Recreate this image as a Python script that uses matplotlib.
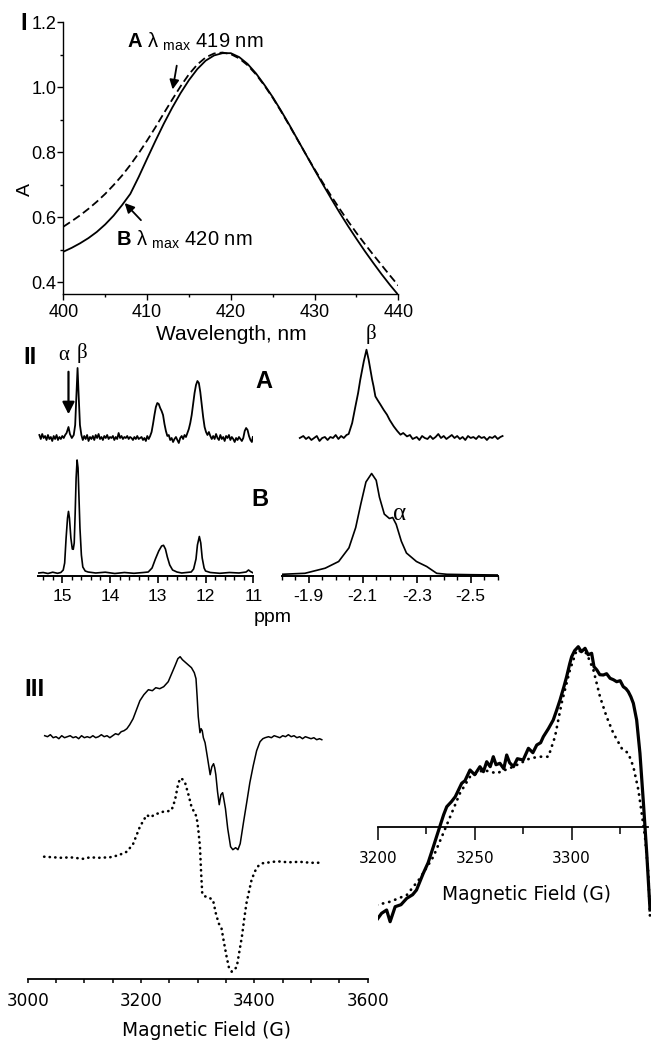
import matplotlib
matplotlib.use("Agg")
import matplotlib.pyplot as plt
import numpy as np
from matplotlib.ticker import MultipleLocator

plt.rcParams['font.family'] = ['Liberation Sans', 'DejaVu Sans']
plt.rcParams['axes.unicode_minus'] = False
plt.rcParams['mathtext.fontset'] = 'custom'
plt.rcParams['mathtext.rm'] = 'Liberation Sans'
plt.rcParams['mathtext.bf'] = 'Liberation Sans:bold'
plt.rcParams['mathtext.it'] = 'Liberation Sans:italic'

W, H = 663, 1050

# ---------------- Panel I : UV-vis ----------------
uv_wl = [400, 401, 402, 403, 404, 405, 406, 407, 408, 409, 410, 411, 412, 413, 414, 415, 416, 417, 418, 419, 420,
         421, 422, 423, 424, 425, 426, 427, 428, 429, 430, 431, 432, 433, 434, 435, 436, 437, 438, 439, 440]
uv_abs_a = [0.571, 0.588, 0.606, 0.626, 0.648, 0.672, 0.699, 0.728, 0.761, 0.797, 0.836, 0.877, 0.920, 0.962,
            1.003, 1.040, 1.070, 1.092, 1.104, 1.107, 1.102, 1.089, 1.068, 1.040, 1.006, 0.968, 0.926, 0.882,
            0.837, 0.792, 0.748, 0.706, 0.665, 0.626, 0.588, 0.552, 0.518, 0.485, 0.453, 0.421, 0.390]
uv_abs_b = [0.494, 0.506, 0.520, 0.536, 0.555, 0.578, 0.605, 0.637, 0.672, 0.724, 0.780, 0.835, 0.888, 0.937,
            0.982, 1.022, 1.056, 1.082, 1.098, 1.105, 1.105, 1.093, 1.072, 1.043, 1.008, 0.970, 0.928, 0.884,
            0.838, 0.792, 0.746, 0.701, 0.657, 0.614, 0.573, 0.534, 0.496, 0.460, 0.425, 0.392, 0.361]

# ---------------- Panel II : NMR ----------------
nmr_left_ppm_a = [15.48, 15.45, 15.42, 15.39, 15.36, 15.33, 15.30, 15.27, 15.24, 15.21, 15.18, 15.15, 15.12, 15.09,
                  15.06, 15.03, 15.00, 14.97, 14.94, 14.91, 14.87, 14.84, 14.80, 14.76, 14.73, 14.70, 14.68, 14.66,
                  14.63, 14.60, 14.57, 14.54, 14.51, 14.48, 14.45, 14.42, 14.39, 14.36, 14.33, 14.30, 14.27, 14.24,
                  14.21, 14.18, 14.15, 14.12, 14.09, 14.06, 14.03, 14.00, 13.97, 13.94, 13.91, 13.88, 13.85, 13.82,
                  13.79, 13.76, 13.73, 13.70, 13.67, 13.64, 13.61, 13.58, 13.55, 13.52, 13.49, 13.46, 13.43, 13.40,
                  13.37, 13.34, 13.31, 13.28, 13.25, 13.22, 13.19, 13.16, 13.13, 13.10, 13.07, 13.04, 13.01, 12.98,
                  12.95, 12.92, 12.89, 12.86, 12.83, 12.80, 12.77, 12.74, 12.71, 12.68, 12.65, 12.62, 12.59, 12.56,
                  12.53, 12.50, 12.47, 12.44, 12.41, 12.38, 12.35, 12.32, 12.29, 12.26, 12.23, 12.20, 12.17, 12.14,
                  12.11, 12.08, 12.05, 12.02, 11.99, 11.96, 11.93, 11.90, 11.87, 11.84, 11.81, 11.78, 11.75, 11.72,
                  11.69, 11.66, 11.63, 11.60, 11.57, 11.54, 11.51, 11.48, 11.45, 11.42, 11.39, 11.36, 11.33, 11.30,
                  11.27, 11.24, 11.21, 11.18, 11.15, 11.12, 11.09, 11.06, 11.03, 11.01]
nmr_left_a = [2, -2, 3, -1, 1, -3, 2, -2, 0, -4, 1, -2, 2, -3,
              0, -2, 1, -1, 2, 4, 10, 3, -1, 2, 12, 45, 69, 45,
              12, 2, -3, 1, -2, 2, -4, 0, -2, 1, -3, 2, -1, 3,
              -2, 0, -3, 1, -1, 2, -2, 0, -1, 1, -3, 0, -2, 4,
              -1, 1, -2, 0, -1, 1, -2, 0, -1, -3, 0, -2, 1, -2,
              -1, 0, -3, -1, -4, 1, -2, 1, 5, 13, 22, 30, 34, 33,
              29, 26, 22, 13, 6, 1, 2, -3, -1, -5, -2, 0, -3, -6,
              -1, 1, -2, 2, 0, 4, 8, 14, 22, 33, 44, 52, 56, 54,
              45, 32, 20, 10, 5, 2, 5, 1, -2, 1, -2, 3, -1, -3,
              2, -2, 0, -4, 1, -1, 2, -3, 0, -2, -5, -1, -3, 0,
              -2, -4, -1, 6, 9, 7, 1, -3, -5, 0]

nmr_left_ppm_b = [15.50, 15.40, 15.30, 15.20, 15.10, 15.03, 14.98, 14.95, 14.92, 14.89, 14.87, 14.85, 14.82, 14.79,
                  14.77, 14.75, 14.73, 14.71, 14.69, 14.67, 14.65, 14.63, 14.60, 14.57, 14.52, 14.46, 14.30, 14.10,
                  13.90, 13.70, 13.50, 13.30, 13.20, 13.12, 13.05, 12.98, 12.92, 12.88, 12.84, 12.80, 12.75, 12.69,
                  12.60, 12.50, 12.40, 12.30, 12.25, 12.20, 12.17, 12.13, 12.10, 12.07, 12.03, 12.00, 11.90, 11.70,
                  11.50, 11.30, 11.15, 11.10, 11.06, 11.00]
nmr_left_b = [0, 0.5, -0.5, 0.8, -0.3, 0.5, 3, 10, 35, 55, 61.6, 55, 35, 24,
              23.7, 30, 60, 95, 113, 105, 75, 45, 18, 6, 2, 1, 0, 0.8,
              -0.5, 0.5, -0.3, 0.5, 1, 5, 14, 22, 27, 27.7, 24, 16, 8, 3,
              1, 0, 0.5, 1, 4, 14, 28, 36.5, 30, 15, 5, 2, 0.5, -0.3,
              0.5, 0, 1, 3, 1.5, 0]

nmr_right_ppm_a = [-1.867, -1.88, -1.89, -1.90, -1.91, -1.92, -1.93, -1.94, -1.95, -1.96, -1.97, -1.98, -1.99,
                   -2.00, -2.01, -2.02, -2.03, -2.04, -2.048, -2.061, -2.073, -2.083, -2.091, -2.104, -2.114,
                   -2.122, -2.135, -2.14, -2.147, -2.155, -2.166, -2.178, -2.19, -2.20, -2.215, -2.228, -2.24,
                   -2.25, -2.264, -2.275, -2.285, -2.30, -2.31, -2.32, -2.33, -2.34, -2.35, -2.36, -2.37, -2.38,
                   -2.39, -2.40, -2.41, -2.42, -2.43, -2.44, -2.45, -2.46, -2.47, -2.48, -2.49, -2.50, -2.51,
                   -2.52, -2.53, -2.54, -2.55, -2.56, -2.57, -2.58, -2.59, -2.60, -2.61, -2.618]
nmr_right_a = [0, 2, -1, 1, -2, 0, 2, -3, 0, 1, -2, 1, 0,
               3, -1, 2, 0, 3, 4, 15, 31.6, 45, 58.3, 76.6, 88.3,
               78.3, 58.3, 52, 41.6, 38, 33.3, 28, 23.3, 18, 11.6, 7, 3.3,
               5, 1.6, 3, -1, 1, -2, 2, 0, -1, 2, -1, 1, 4,
               0, 2, -1, 1, 3, 0, 2, -1, 1, -2, 2, 0, 1,
               -1, 2, 0, 1, -2, 1, 0, 2, -1, 1, 2]

nmr_right_ppm_b = [-1.80, -1.886, -1.961, -2.011, -2.049, -2.074, -2.093, -2.112, -2.133, -2.150, -2.162,
                   -2.180, -2.199, -2.211, -2.224, -2.243, -2.262, -2.299, -2.337, -2.374, -2.412, -2.50, -2.598]
nmr_right_b = [0.7, 1.7, 6.8, 13.5, 27.1, 47.4, 71, 93, 101.5, 94.7, 77.8,
               60.9, 56.5, 57.5, 50.7, 33.8, 22, 13.5, 8.5, 1.7, 0.7, 0.3, 0]

# ---------------- Panel III : EPR ----------------
epr_field_solid = [3030, 3035, 3040, 3045, 3050, 3055, 3060, 3065, 3070, 3075, 3080, 3085, 3090, 3095, 3100,
                   3105, 3110, 3115, 3120, 3125, 3130, 3135, 3140, 3145, 3150, 3155, 3160, 3165, 3170, 3175,
                   3180, 3186, 3192, 3198, 3205, 3213, 3220, 3226, 3233, 3240, 3248, 3254, 3260, 3265, 3269,
                   3273, 3277, 3283, 3289, 3294, 3297, 3299, 3301, 3304, 3306, 3308, 3310, 3313, 3317, 3322,
                   3325, 3328, 3330, 3332, 3335, 3338, 3341, 3344, 3346, 3349, 3353, 3358, 3362, 3367, 3371,
                   3375, 3381, 3387, 3392, 3398, 3404, 3410, 3415, 3419, 3425, 3430, 3435, 3440, 3445, 3450,
                   3455, 3460, 3465, 3470, 3475, 3480, 3485, 3490, 3495, 3500, 3505, 3510, 3515, 3519]
epr_solid = [1, 0, 2, -1, 0, -2, 1, -1, 0, 1, -1, 0, -2, 1, -1,
             0, -1, 1, -1, 0, 2, 0, 1, -1, 1, 3, 2, 5, 6, 8,
             12, 18, 27, 36, 42, 47, 46, 49, 48, 50, 55, 63, 71, 78, 80,
             77, 75, 72, 69, 64, 58, 40, 20, 4, 8, 6, -1, -6, -20, -38,
             -30, -27, -31, -38, -55, -68, -58, -56, -62, -72, -92, -110, -113, -111, -113,
             -107, -85, -64, -46, -29, -14, -5, -2, -1, 0, -1, 1, 0, -1, 1,
             0, 2, 0, 1, -1, 0, -2, 0, -1, -2, -1, -3, -2, -3]

epr_field_dotted = [3029, 3045, 3060, 3075, 3090, 3098, 3110, 3125, 3145, 3160, 3175, 3186, 3198, 3210, 3217,
                    3225, 3232, 3239, 3247, 3254, 3260, 3265, 3269, 3273, 3278, 3284, 3289, 3294, 3298, 3301,
                    3304, 3306, 3308, 3312, 3316, 3322, 3327, 3332, 3337, 3342, 3346, 3351, 3355, 3360, 3364,
                    3369, 3373, 3378, 3382, 3386, 3391, 3395, 3401, 3407, 3414, 3422, 3440, 3460, 3480, 3500, 3519]
epr_dotted = [0.6, 0, -0.5, 0, -1, -1.5, 0, -0.5, 0, 2, 5.6, 13.3, 30.6, 42.3, 40,
              43.3, 44, 45.6, 46, 47.3, 57.3, 72, 79, 78, 74, 62, 50.6, 45, 40.6, 28,
              10.6, -15, -36, -39, -39.4, -41, -42.7, -56, -66, -71, -84, -99.4, -110, -114.4, -113,
              -109.4, -96, -79.4, -62, -46, -33, -22.7, -14, -8.7, -6, -5.4, -4, -5, -4.5, -5.5, -5.4]

zoom_field_solid = [3199.5, 3202, 3204.6, 3206.4, 3209, 3212, 3215, 3218, 3220, 3223.5, 3226, 3228.7, 3230.5, 3232,
                    3234, 3235.6, 3238, 3240, 3243.3, 3245, 3247.6, 3250, 3252.7, 3254.5, 3256.2, 3258, 3259.6,
                    3261, 3263, 3265, 3266.5, 3268, 3270, 3272, 3275, 3277.7, 3280, 3282, 3284, 3285.4, 3288,
                    3290.5, 3292, 3294, 3296, 3297.4, 3299, 3300, 3301.5, 3303.4, 3305, 3306.9, 3308.5, 3310.3,
                    3311.5, 3313, 3314.5, 3316.3, 3318, 3319.8, 3321.5, 3323.2, 3325, 3326.6, 3328, 3329.2,
                    3330.5, 3331.8, 3333.5, 3335.2, 3337, 3338.7, 3340.4]
zoom_solid = [-93.3, -86.6, -83.3, -95, -80, -78, -71.6, -68, -63.3, -46.6, -36, -20, -9, 0,
              12, 20, 25, 30, 43.4, 46, 56.7, 52, 60, 55, 65, 60, 70,
              62, 63.4, 58, 71.7, 64, 60, 68, 66.7, 78.4, 74, 81.7, 84, 90, 98,
              106.7, 115, 126.7, 140, 150, 163, 170, 176, 180, 175, 178.4, 172, 173.4,
              160, 156.7, 152, 151.7, 153, 148.4, 147, 145, 146, 140, 138, 135,
              130, 123.4, 106.7, 73.4, 23.4, -26.6, -83.3]

zoom_field_dotted = [3199.5, 3206.4, 3215, 3221.8, 3228.7, 3233.8, 3238.1, 3242.4, 3247.6, 3254.5, 3261.3, 3270,
                     3278.5, 3283.7, 3288, 3291.4, 3294.8, 3299.1, 3302.6, 3307.7, 3311.2, 3314.6, 3318,
                     3321.5, 3325.8, 3329.2, 3331.8, 3334.4, 3336.1, 3337.8, 3339.5, 3340.4]
zoom_dotted = [-78.3, -75, -68.3, -51.6, -30, -6.6, 13.4, 33.4, 50, 56.7, 53.4, 60,
               68.4, 70, 70, 90, 123.4, 156.7, 176.7, 173.4, 156.7, 130, 110,
               93.4, 78.4, 73.4, 60, 36.7, 13.4, -10, -46.6, -91.6]

fig = plt.figure(figsize=(W / 100, H / 100), dpi=100)


def box(x0, y0, x1, y1):
    # pixel box (top-left origin) -> figure fraction rect
    return [x0 / W, 1 - y1 / H, (x1 - x0) / W, (y1 - y0) / H]


def label(x, y, s, **kw):
    fig.text(x / W, 1 - y / H, s, ha='center', va='center', **kw)


def only_bottom(ax):
    for s in ['top', 'right', 'left']:
        ax.spines[s].set_visible(False)
    ax.yaxis.set_visible(False)
    ax.patch.set_alpha(0)


# ---- Panel I ----
ax1 = fig.add_axes(box(63.3, 22.3, 398.3, 294))
ax1.plot(uv_wl, uv_abs_a, color='k', lw=1.3, ls='--', dashes=(4.4, 2.2))
ax1.plot(uv_wl, uv_abs_b, color='k', lw=1.3)
ax1.set_xlim(400, 440)
ax1.set_ylim(0.364, 1.2)
ax1.spines['top'].set_visible(False)
ax1.spines['right'].set_visible(False)
for s in ['left', 'bottom']:
    ax1.spines[s].set_linewidth(1.0)
ax1.set_xticks([400, 410, 420, 430, 440])
ax1.set_yticks([0.4, 0.6, 0.8, 1.0, 1.2])
ax1.xaxis.set_minor_locator(MultipleLocator(5))
ax1.yaxis.set_minor_locator(MultipleLocator(0.1))
ax1.tick_params(axis='both', which='major', labelsize=13, length=4, width=1.0, direction='out')
ax1.tick_params(axis='both', which='minor', length=2.5, width=1.0, direction='out')
ax1.tick_params(axis='y', pad=1)
ax1.tick_params(axis='x', pad=3)
ax1.patch.set_alpha(0)

ax1.annotate('', xy=(413.0, 0.985), xytext=(413.6, 1.075),
             arrowprops=dict(arrowstyle='-|>', color='k', lw=1.3, mutation_scale=14))
ax1.annotate('', xy=(407.1, 0.650), xytext=(409.5, 0.585),
             arrowprops=dict(arrowstyle='-|>', color='k', lw=1.3, mutation_scale=14))
ax1.text(407.6, 1.139, r'$\mathbf{A}$ λ $_{\mathrm{max}}$ 419 nm', fontsize=14.5, ha='left', va='center')
ax1.text(406.3, 0.530, r'$\mathbf{B}$ λ $_{\mathrm{max}}$ 420 nm', fontsize=14.5, ha='left', va='center')

label(24, 23, 'I', fontsize=17, fontweight='bold')
label(25, 190, 'A', fontsize=14, rotation=90)
label(231, 335, 'Wavelength, nm', fontsize=15)

# ---- Panel II ----
nmr_off_a = 139
nmr_off_b = 3

ax2l = fig.add_axes(box(38.4, 340, 253.3, 576))
ax2l.plot(nmr_left_ppm_a, np.array(nmr_left_a) + nmr_off_a, color='k', lw=1.3)
ax2l.plot(nmr_left_ppm_b, np.array(nmr_left_b) + nmr_off_b, color='k', lw=1.2)
ax2l.set_xlim(15.5, 11)
ax2l.set_ylim(0, 236)
only_bottom(ax2l)
ax2l.spines['bottom'].set_linewidth(1.4)
ax2l.set_xticks([15, 14, 13, 12, 11])
ax2l.xaxis.set_minor_locator(MultipleLocator(0.2))
ax2l.tick_params(axis='x', which='major', labelsize=12.5, length=5, width=1.2, pad=4.5)
ax2l.tick_params(axis='x', which='minor', length=3, width=1.0)
ax2l.annotate('', xy=(14.87, 159), xytext=(14.87, 207),
              arrowprops=dict(arrowstyle='-|>', color='k', lw=1.6, mutation_scale=18))
ax2l.text(14.98, 221, 'α', fontsize=15, ha='center', va='center', family='Liberation Serif')
ax2l.text(14.59, 223, 'β', fontsize=15, ha='center', va='center', family='Liberation Serif')

ax2r = fig.add_axes(box(281.7, 340, 505.8, 576))
ax2r.plot(nmr_right_ppm_a, np.array(nmr_right_a) + 138, color='k', lw=1.3)
ax2r.plot(nmr_right_ppm_b, np.array(nmr_right_b) + 1, color='k', lw=1.2)
ax2r.set_xlim(-1.8, -2.63)
ax2r.set_ylim(0, 236)
only_bottom(ax2r)
ax2r.spines['bottom'].set_linewidth(1.4)
ax2r.spines['bottom'].set_bounds(-1.8, -2.6)
ax2r.set_xticks([-1.9, -2.1, -2.3, -2.5])
ax2r.xaxis.set_minor_locator(MultipleLocator(0.05))
ax2r.tick_params(axis='x', which='major', labelsize=12.5, length=5, width=1.2, pad=4.5)
ax2r.tick_params(axis='x', which='minor', length=3, width=1.0)
ax2r.text(-2.13, 242.5, 'β', fontsize=15, ha='center', va='center', family='Liberation Serif')
ax2r.text(-2.236, 61.5, 'α', fontsize=18, ha='center', va='center', family='Liberation Serif')

label(30, 357, 'II', fontsize=17, fontweight='bold')
label(264, 382, 'A', fontsize=17, fontweight='bold')
label(260, 500, 'B', fontsize=17, fontweight='bold')
label(273, 617, 'ppm', fontsize=14)

# ---- Panel III ----
epr_off_solid = 242.6
epr_off_dotted = 122

ax3l = fig.add_axes(box(27.7, 640, 367.7, 979.3))
ax3l.plot(epr_field_solid, np.array(epr_solid) + epr_off_solid, color='k', lw=1.1)
ax3l.plot(epr_field_dotted, np.array(epr_dotted) + epr_off_dotted, color='k', lw=1.9,
          ls=(0, (0.1, 2.0)), dash_capstyle='round')
ax3l.set_xlim(3000, 3600)
ax3l.set_ylim(0, 339.3)
only_bottom(ax3l)
ax3l.spines['bottom'].set_linewidth(1.3)
ax3l.set_xticks([3000, 3200, 3400, 3600])
ax3l.xaxis.set_minor_locator(MultipleLocator(50))
ax3l.tick_params(axis='x', which='both', labelsize=12.2, length=3, width=1.1, pad=6)
for t in ax3l.get_xticklabels():
    t.set_family('DejaVu Sans')

ax3r = fig.add_axes(box(377.7, 640, 651.2, 930))
ax3r.plot(zoom_field_solid, zoom_solid, color='k', lw=2.3, solid_joinstyle='round')
ax3r.plot(zoom_field_dotted, zoom_dotted, color='k', lw=2.0,
          ls=(0, (0.1, 2.2)), dash_capstyle='round')
ax3r.set_xlim(3200, 3341)
ax3r.set_ylim(-103.3, 186.7)
only_bottom(ax3r)
ax3r.spines['bottom'].set_position(('data', 0))
ax3r.spines['bottom'].set_bounds(3200, 3339.5)
ax3r.spines['bottom'].set_linewidth(1.3)
ax3r.set_xticks([3200, 3250, 3300])
ax3r.xaxis.set_minor_locator(MultipleLocator(25))
ax3r.tick_params(axis='x', which='major', labelsize=11, length=9.5, width=1.1, pad=8)
ax3r.tick_params(axis='x', which='minor', length=5, width=1.1)
for t in ax3r.get_xticklabels():
    t.set_family('DejaVu Sans')

label(35, 689, 'III', fontsize=17.5, fontweight='bold')
label(207, 1030, 'Magnetic Field (G)', fontsize=13.4, family='DejaVu Sans')
label(527, 895, 'Magnetic Field (G)', fontsize=13.4, family='DejaVu Sans')

fig.savefig('out.png', dpi=100)
